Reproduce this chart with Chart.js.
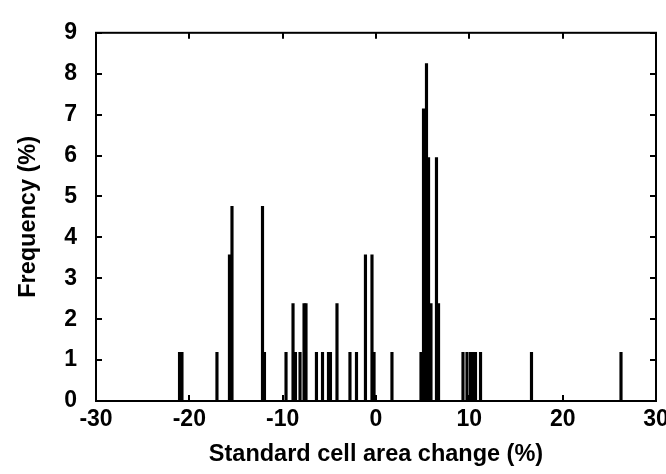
<!DOCTYPE html>
<html>
<head>
<meta charset="utf-8">
<script src="https://cdn.jsdelivr.net/npm/chart.js@4"></script>
<style>
  html, body { margin: 0; padding: 0; background: #fff; }
  #wrap { width: 666px; height: 474px; }
</style>
</head>
<body>
<div id="wrap"><canvas id="chart" width="666" height="474"></canvas></div>
<script>
// cambio de area (%) y frecuencia (%) de cada barra
const areaChange = [
  -21.05, -20.79, -17.04, -15.70, -15.43, -12.16, -11.95, -9.64, -8.89, -8.63,
  -8.14, -7.71, -7.50, -6.38, -5.73, -5.09, -4.88, -4.18, -2.79, -2.09,
  -1.13, -0.43, -0.21, 1.71, 4.82, 5.09, 5.41, 5.63, 5.89, 6.48,
  6.70, 9.32, 9.75, 10.13, 10.45, 10.66, 11.20, 16.66, 26.25
];
const frequency = [
  1.19, 1.19, 1.19, 3.57, 4.76, 4.76, 1.19, 1.19, 2.38, 1.19,
  1.19, 2.38, 2.38, 1.19, 1.19, 1.19, 1.19, 2.38, 1.19, 1.19,
  3.57, 3.57, 1.19, 1.19, 1.19, 7.14, 8.25, 5.95, 2.38, 5.95,
  2.38, 1.19, 1.19, 1.19, 1.19, 1.19, 1.19, 1.19, 1.19
];
const xTicks = [-30, -20, -10, 0, 10, 20, 30];
const yTicks = [0, 1, 2, 3, 4, 5, 6, 7, 8, 9];

const points = areaChange.map((x, i) => ({ x: x, y: frequency[i] }));

// marco y marcas hacia dentro
const framePlugin = {
  id: 'frame',
  afterDraw(chart) {
    const { ctx, chartArea: a, scales } = chart;
    const len = 6;
    ctx.save();
    ctx.strokeStyle = '#000';
    ctx.lineWidth = 2;
    ctx.strokeRect(a.left, a.top, a.right - a.left, a.bottom - a.top);
    ctx.beginPath();
    xTicks.forEach(v => {
      const px = Math.round(scales.x.getPixelForValue(v));
      ctx.moveTo(px, a.bottom); ctx.lineTo(px, a.bottom - len);
      ctx.moveTo(px, a.top); ctx.lineTo(px, a.top + len);
    });
    yTicks.forEach(v => {
      const py = Math.round(scales.y.getPixelForValue(v));
      ctx.moveTo(a.left, py); ctx.lineTo(a.left + len, py);
      ctx.moveTo(a.right, py); ctx.lineTo(a.right - len, py);
    });
    ctx.stroke();
    ctx.restore();
  }
};

const family = 'Liberation Sans, Arial, sans-serif';
const tickFont = { family: family, weight: 'bold', size: 23 };
const titleFont = { family: family, weight: 'bold', size: 23.5 };

new Chart(document.getElementById('chart').getContext('2d'), {
  type: 'bar',
  data: {
    datasets: [{
      data: points,
      backgroundColor: '#000',
      borderWidth: 0,
      barThickness: 2.5
    }]
  },
  options: {
    responsive: false,
    animation: false,
    layout: { padding: { left: 0, right: 10, top: 13, bottom: 0 } },
    plugins: { legend: { display: false }, tooltip: { enabled: false } },
    scales: {
      x: {
        type: 'linear',
        min: -30,
        max: 30,
        offset: false,
        grid: { display: false, drawTicks: false, offset: false },
        border: { display: false },
        ticks: { stepSize: 10, color: '#000', font: tickFont, padding: 5, maxRotation: 0 },
        title: { display: true, text: 'Standard cell area change (%)', color: '#000', font: titleFont, padding: { top: 4, bottom: 5 } },
        afterFit(scale) {
          scale.height = 73;
          scale.paddingLeft = 0;
          scale.paddingRight = 0;
        }
      },
      y: {
        min: 0,
        max: 9,
        grid: { display: false, drawTicks: false },
        border: { display: false },
        ticks: { stepSize: 1, color: '#000', font: tickFont, padding: 19 },
        title: { display: true, text: 'Frequency (%)', color: '#000', font: titleFont, padding: { top: 14, bottom: 0 } },
        afterFit(scale) { scale.width = 96; }
      }
    }
  },
  plugins: [framePlugin]
});
</script>
</body>
</html>
